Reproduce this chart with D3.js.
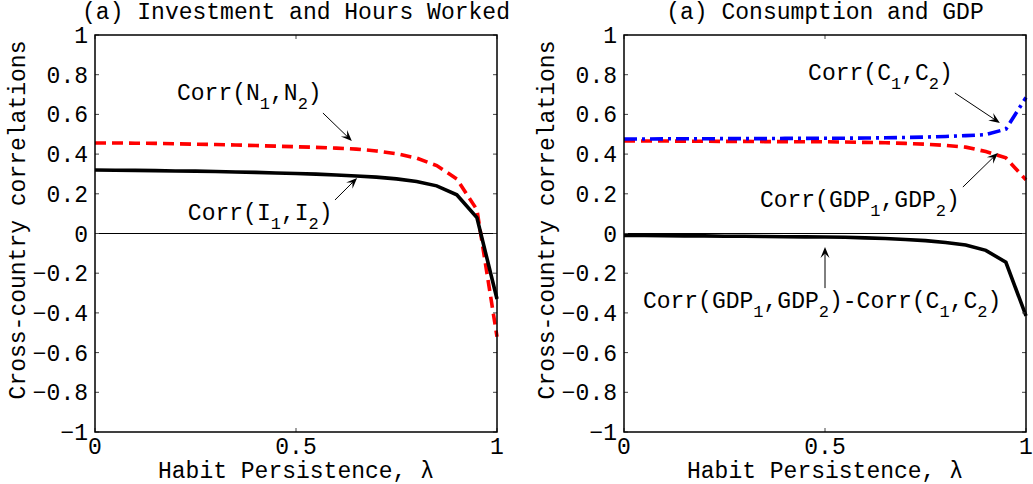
<!DOCTYPE html>
<meta charset="utf-8">
<html>
<style>
	body { margin: 0; background: #fff; }
	text { font-family: "Liberation Mono", "Courier New", monospace; fill: #000; }
	.frame { fill: none; stroke: #000; stroke-width: 1.5px; }
	.tick { stroke: #444; stroke-width: 1px; }
	.zero { stroke: #000; stroke-width: 1px; }
	.series { fill: none; stroke-width: 3.6px; }
	.arrow { stroke: #000; stroke-width: 1px; fill: none; }
</style>
<body>
<script src="https://d3js.org/d3.v7.min.js"></script>
<script>
	// habit persistence grid
	var lambda = [0, 0.05, 0.1, 0.15, 0.2, 0.25, 0.3, 0.35, 0.4, 0.45, 0.5, 0.55, 0.6, 0.65, 0.7, 0.75, 0.8, 0.85, 0.9, 0.95, 1];

	// panel 1: investment and hours
	var corrI = [0.320, 0.319, 0.318, 0.317, 0.315, 0.314, 0.312, 0.310, 0.308, 0.305, 0.302, 0.299, 0.295, 0.290, 0.284, 0.275, 0.262, 0.240, 0.195, 0.080, -0.330];
	var corrN = [0.456, 0.456, 0.455, 0.454, 0.452, 0.450, 0.448, 0.446, 0.443, 0.440, 0.437, 0.434, 0.430, 0.425, 0.416, 0.402, 0.380, 0.342, 0.275, 0.120, -0.520];

	// panel 2: consumption and gdp
	var corrC = [0.476, 0.476, 0.477, 0.477, 0.477, 0.478, 0.478, 0.478, 0.479, 0.479, 0.480, 0.480, 0.481, 0.482, 0.484, 0.486, 0.489, 0.493, 0.498, 0.526, 0.685];
	var corrGDP = [0.466, 0.466, 0.466, 0.465, 0.465, 0.464, 0.464, 0.463, 0.463, 0.462, 0.462, 0.461, 0.459, 0.457, 0.454, 0.450, 0.444, 0.435, 0.413, 0.381, 0.270];
	var corrDiff = [-0.010, -0.010, -0.011, -0.012, -0.012, -0.014, -0.014, -0.015, -0.016, -0.017, -0.018, -0.019, -0.022, -0.025, -0.030, -0.036, -0.045, -0.058, -0.085, -0.145, -0.415];

	var yTicks = [-1, -0.8, -0.6, -0.4, -0.2, 0, 0.2, 0.4, 0.6, 0.8, 1];
	var xTicks = [0, 0.5, 1];
	var titles = ["(a) Investment and Hours Worked", "(a) Consumption and GDP"];

	var width = 1033, height = 484;
	var plotW = 402, plotTop = 35, plotBottom = 432;
	var panelLeft = [95, 624];

	var svg = d3.select("body").append("svg")
		.attr("width", width)
		.attr("height", height);

	var panels = [
		{
			series: [
				{ values: corrN, color: "#ff0000", dash: "11,6" },
				{ values: corrI, color: "#000000", dash: null }
			],
			notes: [
				{ label: ["Corr(", "N", "1", ",", "N", "2", ")"], at: [0.204, 0.673], from: [0.567, 0.607], to: [0.639, 0.466] },
				{ label: ["Corr(", "I", "1", ",", "I", "2", ")"], at: [0.231, 0.068], from: [0.597, 0.169], to: [0.652, 0.280] }
			]
		},
		{
			series: [
				{ values: corrDiff, color: "#000000", dash: null },
				{ values: corrGDP, color: "#ff0000", dash: "11,6" },
				{ values: corrC, color: "#0000ff", dash: "13,5,3,5" }
			],
			notes: [
				{ label: ["Corr(", "C", "1", ",", "C", "2", ")"], at: [0.458, 0.773], from: [0.823, 0.708], to: [0.935, 0.557] },
				{ label: ["Corr(", "GDP", "1", ",", "GDP", "2", ")"], at: [0.338, 0.134], from: [0.843, 0.234], to: [0.930, 0.406] },
				{ label: ["Corr(", "GDP", "1", ",", "GDP", "2", ")-Corr(", "C", "1", ",", "C", "2", ")"], at: [0.047, -0.375], from: [0.5, -0.275], to: [0.5, -0.068] }
			]
		}
	];

	var y = d3.scaleLinear().domain([-1, 1]).range([plotBottom, plotTop]);

	panels.forEach(function (p, i) {
		var x = d3.scaleLinear().domain([0, 1]).range([panelLeft[i], panelLeft[i] + plotW]);
		var g = svg.append("g");

		// zero line
		g.append("line").attr("class", "zero")
			.attr("x1", x(0)).attr("x2", x(1))
			.attr("y1", y(0)).attr("y2", y(0));

		// curves
		var line = d3.line()
			.x(function (d, k) { return x(lambda[k]); })
			.y(function (d) { return y(d); });

		p.series.forEach(function (s) {
			g.append("path")
				.attr("class", "series")
				.attr("d", line(s.values))
				.attr("stroke", s.color)
				.attr("stroke-dasharray", s.dash);
		});

		// ticks inside on all four sides
		yTicks.forEach(function (t) {
			g.append("line").attr("class", "tick")
				.attr("x1", x(0)).attr("x2", x(0) + 4).attr("y1", y(t)).attr("y2", y(t));
			g.append("line").attr("class", "tick")
				.attr("x1", x(1)).attr("x2", x(1) - 4).attr("y1", y(t)).attr("y2", y(t));
			g.append("text")
				.attr("x", x(0) - 7).attr("y", y(t))
				.attr("dy", "0.35em")
				.attr("text-anchor", "end")
				.style("font-size", "23px")
				.text(t < 0 ? "\u2212" + Math.abs(t) : String(t));
		});
		xTicks.forEach(function (t) {
			g.append("line").attr("class", "tick")
				.attr("x1", x(t)).attr("x2", x(t)).attr("y1", y(-1)).attr("y2", y(-1) - 4);
			g.append("line").attr("class", "tick")
				.attr("x1", x(t)).attr("x2", x(t)).attr("y1", y(1)).attr("y2", y(1) + 4);
			g.append("text")
				.attr("x", x(t)).attr("y", plotBottom + 22)
				.attr("text-anchor", "middle")
				.style("font-size", "23px")
				.text(String(t));
		});

		// frame
		g.append("rect").attr("class", "frame")
			.attr("x", x(0)).attr("y", y(1))
			.attr("width", plotW).attr("height", y(-1) - y(1));

		// title & axis labels
		g.append("text")
			.attr("x", x(0.5)).attr("y", 19)
			.attr("text-anchor", "middle")
			.style("font-size", "23px")
			.text(titles[i]);

		g.append("text")
			.attr("x", x(0.5)).attr("y", 478)
			.attr("text-anchor", "middle")
			.style("font-size", "23px")
			.text("Habit Persistence, \u03bb");

		g.append("text")
			.attr("transform", "translate(" + (x(0) - 70) + "," + 220 + ") rotate(-90)")
			.attr("text-anchor", "middle")
			.style("font-size", "23px")
			.text("Cross-country correlations");

		// annotations with arrows
		p.notes.forEach(function (n) {
			var t = g.append("text")
				.attr("x", x(n.at[0])).attr("y", y(n.at[1]))
				.style("font-size", "23px");
			var wasSub = false;
			n.label.forEach(function (part) {
				var isSub = part === "1" || part === "2";
				t.append("tspan")
					.attr("dy", isSub ? 9 : (wasSub ? -9 : null))
					.style("font-size", isSub ? "17px" : null)
					.text(part);
				wasSub = isSub;
			});

			var x1 = x(n.from[0]), y1 = y(n.from[1]), x2 = x(n.to[0]), y2 = y(n.to[1]);
			var ang = Math.atan2(y2 - y1, x2 - x1);
			var hl = 11, hw = 4.5;
			g.append("line").attr("class", "arrow")
				.attr("x1", x1).attr("y1", y1)
				.attr("x2", x2 - 6 * Math.cos(ang)).attr("y2", y2 - 6 * Math.sin(ang));
			var bx = x2 - hl * Math.cos(ang), by = y2 - hl * Math.sin(ang);
			var nx = x2 - 0.6 * hl * Math.cos(ang), ny = y2 - 0.6 * hl * Math.sin(ang);
			g.append("path")
				.attr("d", "M" + x2 + "," + y2
					+ "L" + (bx - hw * Math.sin(ang)) + "," + (by + hw * Math.cos(ang))
					+ "L" + nx + "," + ny
					+ "L" + (bx + hw * Math.sin(ang)) + "," + (by - hw * Math.cos(ang)) + "Z")
				.attr("fill", "#000");
		});
	});
</script>
</body>
</html>
